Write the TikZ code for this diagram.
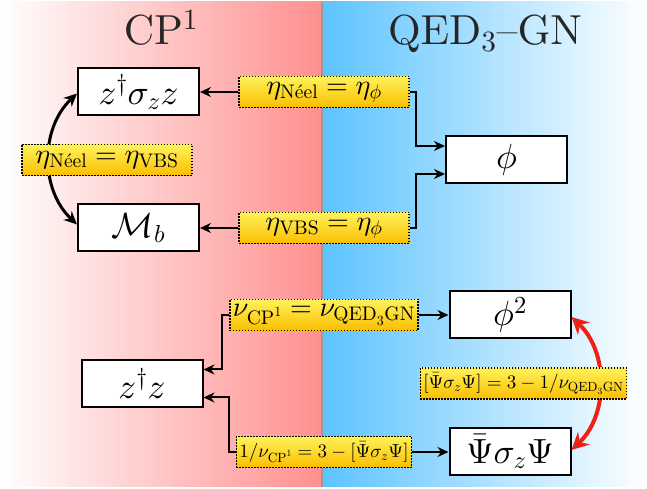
\documentclass[tikz,border=0pt]{standalone}
\usepackage{amsmath}
\DeclareFontShape{OT1}{cmr}{m}{n}{<->cmr10}{}
\DeclareFontShape{OML}{cmm}{m}{it}{<->cmmi10}{}
\DeclareFontShape{OMS}{cmsy}{m}{n}{<->cmsy10}{}
\DeclareFontShape{OMX}{cmex}{m}{n}{<->cmex10}{}
\usetikzlibrary{arrows.meta,calc}
\definecolor{pinkR}{RGB}{255,143,143}
\definecolor{blueL}{RGB}{92,195,255}
\definecolor{ytop}{RGB}{255,242,90}
\definecolor{ybot}{RGB}{250,190,0}
\definecolor{redA}{RGB}{240,32,20}
\tikzset{
  opbox/.style={draw, line width=2pt, fill=white, minimum width=121pt, minimum height=47pt, inner sep=0pt, font=\fontsize{35}{40}\selectfont},
  relbox/.style={draw, line width=1.5pt, dash pattern=on 1.5pt off 1.5pt, top color=ytop, bottom color=ybot, minimum width=170pt, minimum height=31pt, inner sep=3pt, font=\fontsize{28}{30}\selectfont},
  srelbox/.style={relbox, font=\fontsize{19}{21}\selectfont},
  conn/.style={line width=2pt, -{Stealth[length=11pt,width=10pt]}},
  bend2/.style={line width=3pt, {Stealth[length=13pt,width=12pt]}-{Stealth[length=13pt,width=12pt]}},
  bendred/.style={line width=4pt, draw=redA, {Stealth[length=17pt,width=17pt]}-{Stealth[length=17pt,width=17pt]}, color=redA},
  ttl/.style={anchor=base, font=\fontencoding{OT1}\fontfamily{cmr}\fontsize{42}{46}\selectfont, text=black!85}
}
\begin{document}
\begin{tikzpicture}[x=1pt,y=1pt]
\useasboundingbox (0,0) rectangle (647,489);
% backgrounds
\shade[left color=white, right color=pinkR] (0,2) rectangle (322,487);
\shade[left color=blueL, right color=white] (322,2) rectangle (647,487);
\draw[line width=1.5pt, black!40] (322,2) -- (322,487);
% titles
\node[ttl] (tcp) at (161,444) {CP$^1$};
\node[ttl] (tqed) at (485,444) {QED$_3$--GN};
% operator boxes
\node[opbox] (zsz) at (138.5,397) {$z^\dagger\sigma_z z$};
\node[opbox] (mb) at (138.5,261) {$\mathcal{M}_b$};
\node[opbox] (phi) at (506.5,329) {$\phi$};
\node[opbox] (phi2) at (510,174) {$\phi^2$};
\node[opbox] (zz) at (142,105.5) {$z^\dagger z$};
\node[opbox] (psi) at (510,37) {$\bar\Psi\sigma_z\Psi$};
% curved connectors (drawn under the relation labels)
\draw[bend2] ([yshift=-1.5pt]zsz.west) .. controls +(-37,-35) and +(-37,35) .. ([yshift=3.5pt]mb.west);
\draw[bendred] ([yshift=-2pt]phi2.east) .. controls +(37,-35) and +(37,35) .. ([yshift=2pt]psi.east);
% relation labels
\node[relbox] (l1) at (324,397) {$\eta_{\mathrm{N\acute{e}el}}=\eta_\phi$};
\node[relbox] (l2) at (324,261) {$\eta_{\mathrm{VBS}}=\eta_\phi$};
\node[relbox] (l3) at (107,329) {$\eta_{\mathrm{N\acute{e}el}}=\eta_{\mathrm{VBS}}$};
\node[relbox] (l4) at (324,174) {$\nu_{\mathrm{CP}^1}=\nu_{\mathrm{QED}_3\mathrm{GN}}$};
\node[srelbox] (l5) at (324,37) {$1/\nu_{\mathrm{CP}^1}=3-[\bar\Psi\sigma_z\Psi]$};
\node[srelbox] (l6) at (523.5,105.5) {$[\bar\Psi\sigma_z\Psi]=3-1/\nu_{\mathrm{QED}_3\mathrm{GN}}$};
% straight connectors
\draw[conn] (l1.west) -- (l1.west -| zsz.east);
\draw[conn] (l1.east) -- ++(6,0) |- ([yshift=14pt]phi.west);
\draw[conn] (l2.west) -- (l2.west -| mb.east);
\draw[conn] (l2.east) -- ++(6,0) |- ([yshift=-14pt]phi.west);
\draw[conn] (l4.east) -- (l4.east -| phi2.west);
\draw[conn] (l4.west) -- ++(-7,0) |- ([yshift=14pt]zz.east);
\draw[conn] (l5.east) -- (l5.east -| psi.west);
\draw[conn] (l5.west) -- ++(-7,0) |- ([yshift=-14pt]zz.east);
\end{tikzpicture}
\end{document}
